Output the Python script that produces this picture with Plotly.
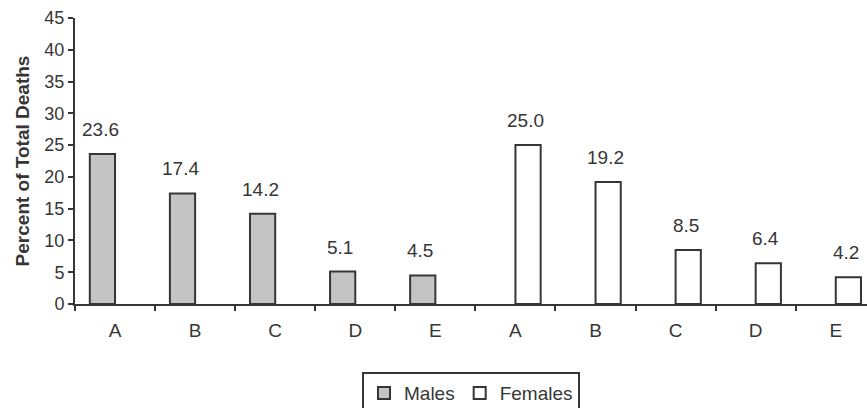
import plotly.graph_objects as go

# Causes ranked A-E for each sex
categories = ["A", "B", "C", "D", "E", "A", "B", "C", "D", "E"]
males = [23.6, 17.4, 14.2, 5.1, 4.5, None, None, None, None, None]
females = [None, None, None, None, None, 25.0, 19.2, 8.5, 6.4, 4.2]
y_ticks = [0, 5, 10, 15, 20, 25, 30, 35, 40, 45]

ink = "#363636"
font = "Liberation Sans, Arial, sans-serif"
pos = list(range(len(categories)))

fig = go.Figure()
fig.add_trace(go.Bar(
    x=pos, y=males, name="Males",
    marker=dict(color="#c4c4c4", line=dict(color=ink, width=2)),
))
fig.add_trace(go.Bar(
    x=pos, y=females, name="Females",
    marker=dict(color="white", line=dict(color=ink, width=2)),
))

# value labels above each bar
for series, shift in ((males, -15), (females, 10)):
    for xi, v in zip(pos, series):
        if v is None:
            continue
        fig.add_annotation(
            x=xi, y=v, text=f"{v:.1f}", showarrow=False,
            xanchor="center", yanchor="bottom", xshift=shift, yshift=12,
            font=dict(family=font, size=19, color=ink),
        )

boundaries = [p - 0.5 for p in pos] + [pos[-1] + 0.5]

fig.update_layout(
    width=867, height=408,
    margin=dict(l=75, r=0, t=18, b=104, autoexpand=False),
    paper_bgcolor="white", plot_bgcolor="white",
    barmode="group", bargap=0.37, bargroupgap=0,
    font=dict(family=font, size=18, color=ink),
    showlegend=True,
    legend=dict(
        orientation="h", x=0.5, xanchor="center", y=-0.238, yanchor="top",
        bordercolor=ink, borderwidth=2,
        font=dict(family=font, size=19, color=ink),
        itemwidth=30, tracegroupgap=0,
    ),
    xaxis=dict(
        range=[-0.5, 9.39],
        tickmode="array", tickvals=pos, ticktext=categories,
        ticks="outside", ticklen=8, tickcolor="rgba(0,0,0,0)",
        showline=True, linecolor=ink, linewidth=2,
        showgrid=False, zeroline=False,
        tickfont=dict(size=19),
        minor=dict(tickmode="array", tickvals=boundaries, ticks="outside",
                   ticklen=5, tickwidth=2, tickcolor=ink, showgrid=False),
    ),
    yaxis=dict(
        range=[0, 45], tickmode="array", tickvals=y_ticks,
        ticks="outside", ticklen=5, tickwidth=2, tickcolor=ink,
        showline=True, linecolor=ink, linewidth=2,
        showgrid=False, zeroline=False,
        tickfont=dict(size=18),
        title=dict(text="<b>Percent of Total Deaths</b>", font=dict(size=19), standoff=10),
    ),
)

fig.write_html("out.html")
